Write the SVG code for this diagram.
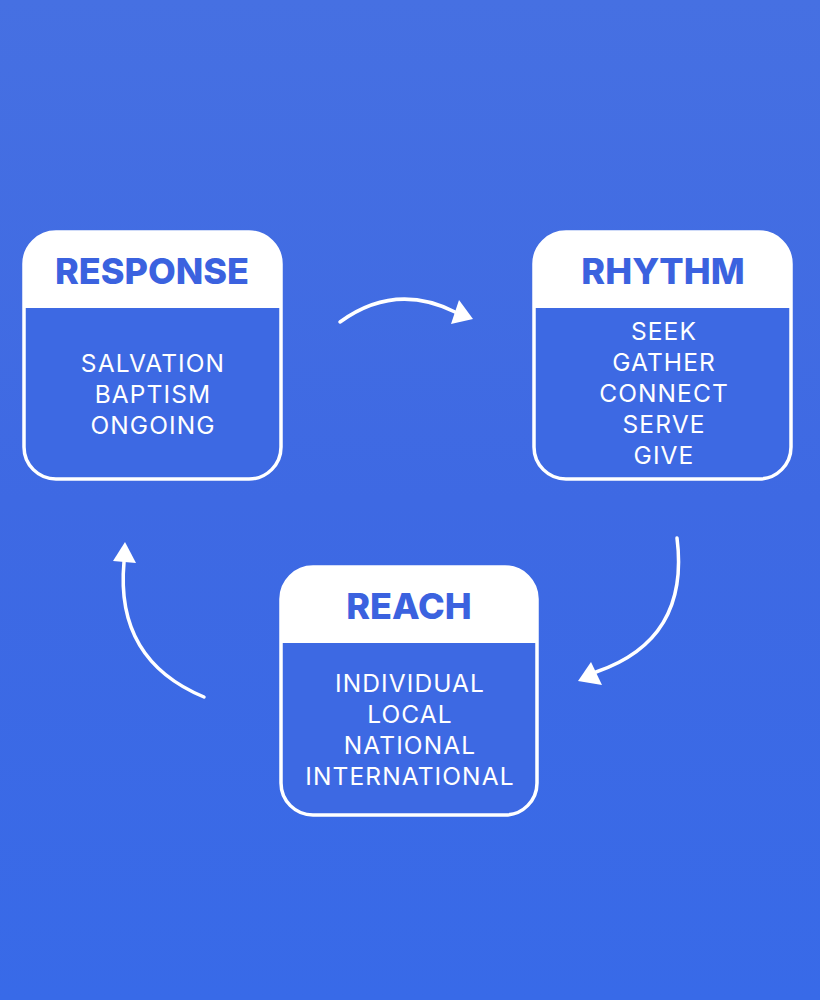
<svg xmlns="http://www.w3.org/2000/svg" width="820" height="1000" viewBox="0 0 820 1000">
<defs>
<linearGradient id="bg" x1="0" y1="0" x2="0" y2="1">
<stop offset="0" stop-color="#4670e2"/>
<stop offset="0.5" stop-color="#3e69e3"/>
<stop offset="1" stop-color="#386ae8"/>
</linearGradient>
</defs>
<style>
.box{fill:#3d69e3;stroke:#ffffff;stroke-width:3.5}
.hdr{fill:#ffffff}
.title{font-family:Inter,"Liberation Sans",sans-serif;font-weight:800;font-size:36px;fill:#3b62df;text-anchor:middle}
.body{font-family:Inter,"Liberation Sans",sans-serif;font-weight:400;font-size:24.5px;letter-spacing:1.1px;fill:#ffffff;text-anchor:middle}
.conn{fill:none;stroke:#ffffff;stroke-width:3.5;stroke-linecap:round}
</style>
<rect width="820" height="1000" fill="url(#bg)"/>
<g id="response">
<rect class="box" x="24" y="232" width="257" height="247" rx="32"/>
<path class="hdr" d="M24,308 V264 A32,32 0 0 1 56,232 H249 A32,32 0 0 1 281,264 V308 Z"/>
<text class="title" x="152" y="284">RESPONSE</text>
<text class="body" x="153" y="372">SALVATION</text>
<text class="body" x="153" y="403">BAPTISM</text>
<text class="body" x="153" y="434">ONGOING</text>
</g>
<g id="rhythm">
<rect class="box" x="534" y="232" width="257" height="247" rx="32"/>
<path class="hdr" d="M534,308 V264 A32,32 0 0 1 566,232 H759 A32,32 0 0 1 791,264 V308 Z"/>
<text class="title" x="663" y="284">RHYTHM</text>
<text class="body" x="664" y="340">SEEK</text>
<text class="body" x="664" y="371">GATHER</text>
<text class="body" x="664" y="402">CONNECT</text>
<text class="body" x="664" y="433">SERVE</text>
<text class="body" x="664" y="464">GIVE</text>
</g>
<g id="reach">
<rect class="box" x="281" y="567" width="256" height="248" rx="32"/>
<path class="hdr" d="M281,643 V599 A32,32 0 0 1 313,567 H505 A32,32 0 0 1 537,599 V643 Z"/>
<text class="title" x="409" y="619">REACH</text>
<text class="body" x="410" y="692">INDIVIDUAL</text>
<text class="body" x="410" y="723">LOCAL</text>
<text class="body" x="410" y="754">NATIONAL</text>
<text class="body" x="410" y="785">INTERNATIONAL</text>
</g>
<g id="connectors">
<path class="conn" d="M340,322 Q395,282 455,312"/>
<path d="M473,319 L451,324 L459,300 Z" fill="#ffffff"/>
<path class="conn" d="M677,538 Q690,640 596,672"/>
<path d="M578,681 L591,662 L602,685 Z" fill="#ffffff"/>
<path class="conn" d="M204,697 Q115,660 124,562"/>
<path d="M125,542 L113,561 L136,563 Z" fill="#ffffff"/>
</g>
</svg>
